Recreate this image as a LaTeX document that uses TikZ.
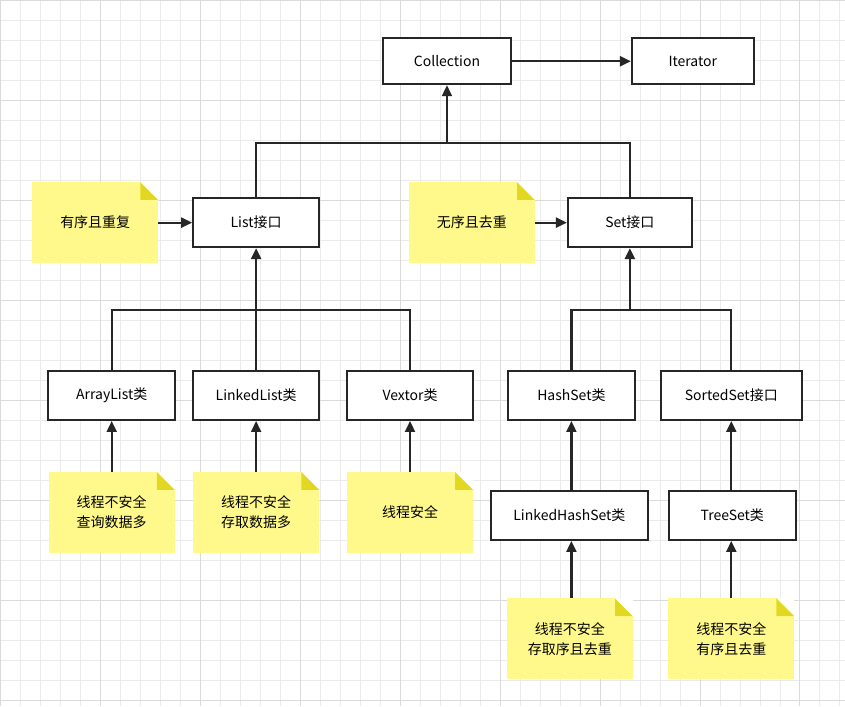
\documentclass[tikz,border=0pt]{standalone}
\usepackage{fontspec}
\setmainfont{Noto Sans CJK SC}
\usetikzlibrary{arrows.meta}
\begin{document}
\begin{tikzpicture}[x=1pt,y=-1pt,
 box/.style={draw=black!85,line width=2pt,fill=white,minimum width=#1,minimum height=49pt,inner sep=0pt,font=\fontsize{14}{16}\selectfont},
 box/.default=126pt,
 note/.style={fill=yellow!45!white,minimum width=126pt,minimum height=81pt,inner sep=0pt,align=center,font=\fontsize{14}{20}\selectfont},
 ln/.style={draw=black!85,line width=2.2pt},
 ar/.style={ln,-{Triangle[length=11pt,width=10pt]}}]
\fill[white] (0,0) rectangle (845,706);
\foreach \x in {0,20,...,845} \draw[black!8,line width=0.5pt] (\x,0) -- (\x,706);
\foreach \y in {0,20,...,706} \draw[black!8,line width=0.5pt] (0,\y) -- (845,\y);
\foreach \x in {0,100,...,845} \draw[black!14,line width=0.6pt] (\x,0) -- (\x,706);
\foreach \y in {0,100,...,706} \draw[black!14,line width=0.6pt] (0,\y) -- (845,\y);
\useasboundingbox (0,0) rectangle (845,706);
\newcommand{\mynote}[3]{%
 \node[note] (#1) at (#2) {#3};
 \fill[yellow!70!olive!85] ([xshift=-18pt]#1.north east) -- ([yshift=-18pt]#1.north east) -- ([xshift=-18pt,yshift=-18pt]#1.north east) -- cycle;
 \fill[white] ([xshift=-18pt]#1.north east) -- (#1.north east) -- ([yshift=-18pt]#1.north east) -- cycle;}
\node[box=128pt,minimum height=46pt] (col) at (447,61) {Collection};
\node[box=122pt,minimum height=46pt] (it) at (693,61) {Iterator};
\node[box] (list) at (256,222.5) {List接口};
\node[box=124pt] (set) at (630,222.5) {Set接口};
\mynote{n1}{95,222.5}{有序且重复}
\mynote{n2}{472,222.5}{无序且去重}
\node[box=127pt] (al) at (111.5,395.5) {ArrayList类};
\node[box] (ll) at (256,395.5) {LinkedList类};
\node[box] (vx) at (410,395.5) {Vextor类};
\node[box=127pt] (hs) at (571.5,395.5) {HashSet类};
\node[box=141pt] (ss) at (731.5,395.5) {SortedSet接口};
\node[box=157pt] (lhs) at (569.5,515.5) {LinkedHashSet类};
\node[box=127pt] (ts) at (732.5,515.5) {TreeSet类};
\mynote{n3}{111.5,512.5}{线程不安全\\查询数据多}
\mynote{n4}{256,512.5}{线程不安全\\存取数据多}
\mynote{n5}{410,512.5}{线程安全}
\mynote{n6}{570,639}{线程不安全\\存取序且去重}
\mynote{n7}{731.5,639}{线程不安全\\有序且去重}
\coordinate (j1) at (447,143);
\draw[ln] (list.north) |- (j1) -| (set.north);
\draw[ar] (j1) -- (col.south);
\draw[ar] (col) -- (it);
\draw[ar] (n1) -- (list);
\draw[ar] (n2) -- (set);
\coordinate (j2) at (256,310);
\coordinate (j3) at (630,310);
\draw[ln] (al.north) |- (j2) -| (vx.north);
\draw[ln] (ll.north) -- (j2);
\draw[ar] (j2) -- (list.south);
\draw[ln] (hs.north) |- (j3) -| (ss.north);
\draw[ar] (j3) -- (set.south);
\draw[ar] (n3.north) -- (al.south);
\draw[ar] (n4.north) -- (ll.south);
\draw[ar] (n5.north) -- (vx.south);
\draw[ar] (lhs.north-|hs.south) -- (hs.south);
\draw[ar] (ts.north-|ss.south) -- (ss.south);
\draw[ar] (n6.north-|hs.south) -- (lhs.south-|hs.south);
\draw[ar] (n7.north-|ss.south) -- (ts.south-|ss.south);
\end{tikzpicture}
\end{document}
